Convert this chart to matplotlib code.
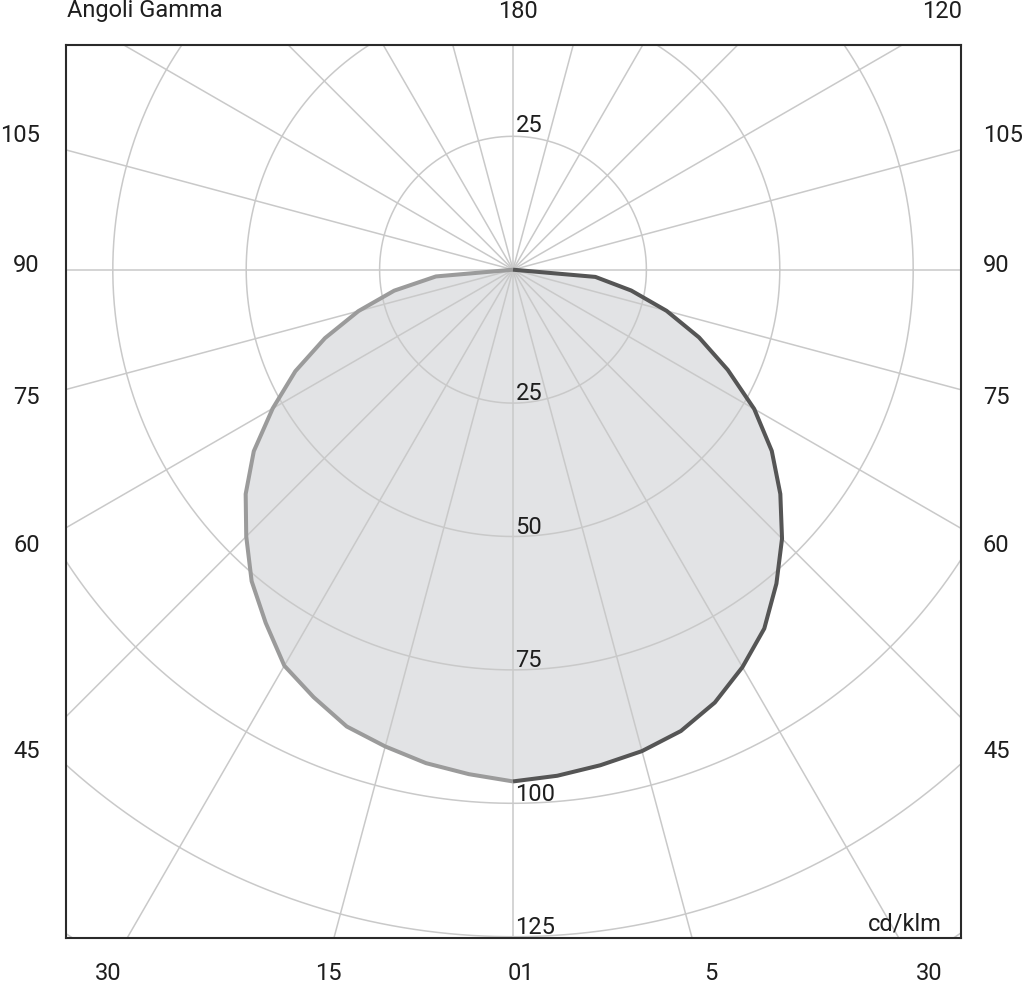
import numpy as np
import matplotlib
matplotlib.use("Agg")
import matplotlib.pyplot as plt

# ---------------- data ----------------
gamma = [0, 5, 10, 15, 20, 25, 30, 35, 40, 45, 50, 55, 60, 65, 70, 75, 80, 85, 90]
cd_left = [95.9, 94.9, 93.9, 92.5, 91.1, 88.4, 85.7, 80.8, 76.2, 70.7, 65.4,
           59.3, 52.0, 45.0, 37.5, 30.0, 22.6, 14.5, 0.0]
cd_right = [95.9, 95.2, 94.3, 93.4, 92.0, 89.5, 86.0, 82.1, 76.8, 71.3, 65.4,
            59.2, 52.2, 44.4, 37.1, 29.8, 22.5, 15.5, 0.0]

rings = [25, 50, 75, 100, 125, 150]
ring_labels = ["25", "50", "75", "100", "125"]
spokes = [0, 15, 30, 45, 60, 75, 90, 105, 120, 135, 150, 165,
          180, 195, 210, 225, 240, 255, 270, 285, 300, 315, 330, 345]
side_labels = ["105", "90", "75", "60", "45"]
bottom_labels = ["30", "15", "01", "5", "30"]
top_labels = ["Angoli Gamma", "180", "120"]
unit_label = "cd/klm"

# ---------------- layout ----------------
W, H = 1024, 984
CX, CY = 513.0, 269.7          # pixel position of the pole
S = 5.336                      # pixels per cd/klm
BOX = (66, 45, 961, 938)       # left, top, right, bottom in pixels

plt.rcParams["font.family"] = ["Roboto", "DejaVu Sans"]
FS = 17
TXT = "#1e1e1e"

fig = plt.figure(figsize=(W / 100, H / 100), dpi=100)
fig.patch.set_facecolor("white")

l, t, r, b = BOX
ax = fig.add_axes([l / W, (H - b) / H, (r - l) / W, (b - t) / H])
ax.set_xlim((l - CX) / S, (r - CX) / S)
ax.set_ylim(-(b - CY) / S, (CY - t) / S)
ax.set_xticks([])
ax.set_yticks([])
for sp in ax.spines.values():
    sp.set_linewidth(1.5)
    sp.set_color("#2a2a2a")
    sp.set_zorder(10)

def to_xy(angles_deg, radii, side):
    a = np.radians(np.asarray(angles_deg, dtype=float))
    rr = np.asarray(radii, dtype=float)
    return side * rr * np.sin(a), -rr * np.cos(a)

# filled photometric curve
xl, yl = to_xy(gamma, cd_left, -1)
xr, yr = to_xy(gamma, cd_right, 1)
poly_x = np.concatenate([xl[::-1], xr])
poly_y = np.concatenate([yl[::-1], yr])
ax.fill(poly_x, poly_y, color="#e2e3e5", lw=0, zorder=1)

# grid: rings and spokes
GRID = "#c9c9c9"
th = np.linspace(0, 2 * np.pi, 721)
for rv in rings:
    ax.plot(rv * np.cos(th), rv * np.sin(th), color=GRID, lw=1.1, zorder=2)
for a in spokes:
    gx, gy = to_xy([0, a], [0, 200], 1)
    ax.plot(gx, gy, color=GRID, lw=1.1, zorder=2)

# curves
ax.plot(xl, yl, color="#9b9b9b", lw=2.9, zorder=3, solid_capstyle="butt", solid_joinstyle="round")
ax.plot(xr, yr, color="#555555", lw=2.9, zorder=4, solid_capstyle="butt", solid_joinstyle="round")

# ring labels
off = 2.8 / S
ax.text(0.47, 25 + off + 1.5 / S, ring_labels[0], fontsize=FS, color=TXT, ha="left", va="baseline", zorder=5)
for rv, lab in zip(rings[:5], ring_labels):
    ax.text(0.47, -rv + off, lab, fontsize=FS, color=TXT, ha="left", va="baseline", zorder=5)

# outer labels (pixel positions)
def fx(px):
    return px / W

def fy(py):
    return (H - py) / H

fig.text(fx(67), fy(11), top_labels[0], fontsize=FS, color=TXT, ha="left", va="center")
fig.text(fx(518), fy(11), top_labels[1], fontsize=FS, color=TXT, ha="center", va="center")
fig.text(fx(962), fy(11), top_labels[2], fontsize=FS, color=TXT, ha="right", va="center")

side_y = [135, 266, 397, 546, 752]
for lab, py in zip(side_labels, side_y):
    fig.text(fx(40), fy(py), lab, fontsize=FS, color=TXT, ha="right", va="center")
    fig.text(fx(983), fy(py), lab, fontsize=FS, color=TXT, ha="left", va="center")

bottom_x = [108, 328, 521, 711, 929]
for lab, px in zip(bottom_labels, bottom_x):
    fig.text(fx(px), fy(974), lab, fontsize=FS, color=TXT, ha="center", va="center")

fig.text(fx(942), fy(924), unit_label, fontsize=FS, color=TXT, ha="right", va="center")

fig.savefig("out.png", dpi=100, facecolor="white")
